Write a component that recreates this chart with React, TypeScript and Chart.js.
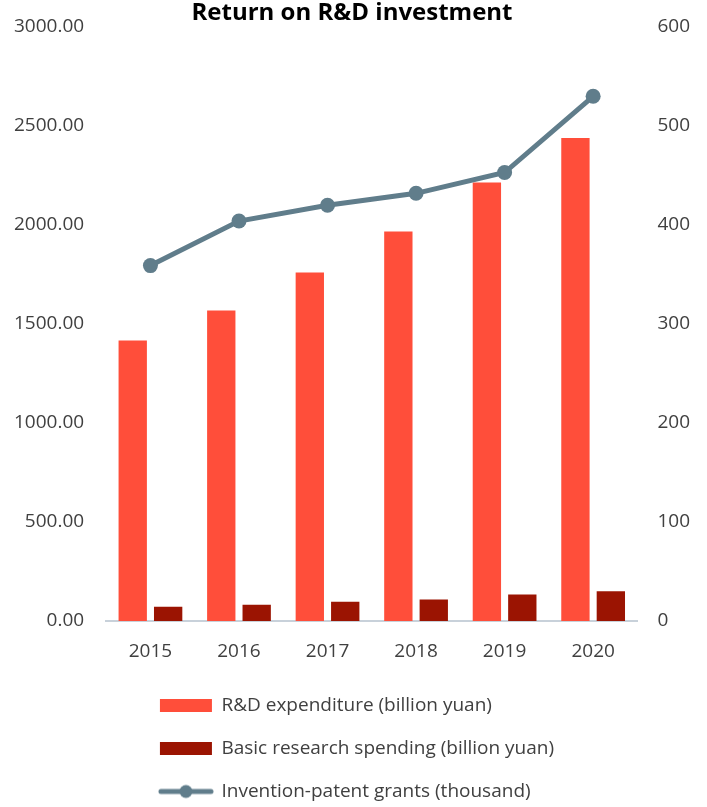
import React, { useEffect, useRef } from "react";
import { Chart, registerables } from "chart.js";

Chart.register(...registerables);

const years = ["2015", "2016", "2017", "2018", "2019", "2020"];
const rdExpenditure = [1417.0, 1567.7, 1760.6, 1967.8, 2214.3, 2439.3];
const basicResearch = [71.6, 82.3, 97.5, 109.0, 133.6, 150.4];
const patentGrants = [359, 404, 420, 432, 453, 530];

const seriesNames = [
  "R&D expenditure (billion yuan)",
  "Basic research spending (billion yuan)",
  "Invention-patent grants (thousand)",
];

const RD_COLOR = "#FF4E3A";
const BASIC_COLOR = "#9B1402";
const LINE_COLOR = "#607D8B";
const TEXT_COLOR = "#404040";
const FONT = "'Open Sans', 'Noto Sans', 'DejaVu Sans', sans-serif";

function makeLineIcon(): HTMLCanvasElement {
  const c = document.createElement("canvas");
  c.width = 56;
  c.height = 16;
  const ctx = c.getContext("2d")!;
  ctx.strokeStyle = LINE_COLOR;
  ctx.lineWidth = 5;
  ctx.lineCap = "round";
  ctx.beginPath();
  ctx.moveTo(3, 8);
  ctx.lineTo(53, 8);
  ctx.stroke();
  ctx.fillStyle = LINE_COLOR;
  ctx.beginPath();
  ctx.arc(28, 8, 6.5, 0, Math.PI * 2);
  ctx.fill();
  return c;
}

// Left-align the legend rows as one block (all rows share the widest row's width)
const alignLegendPlugin = {
  id: "alignLegendLeft",
  afterUpdate(chart: any) {
    const lg = chart.legend;
    if (lg && lg.lineWidths && lg.lineWidths.length) {
      const m = Math.max(...lg.lineWidths) - 10;
      lg.lineWidths = lg.lineWidths.map(() => m);
    }
  },
};

export default function App() {
  const canvasRef = useRef<HTMLCanvasElement | null>(null);

  useEffect(() => {
    document.body.style.margin = "0";
    const lineIcon = makeLineIcon();
    const chart = new Chart(canvasRef.current!, {
      type: "bar",
      data: {
        labels: years,
        datasets: [
          {
            type: "bar",
            label: seriesNames[0],
            data: rdExpenditure,
            backgroundColor: RD_COLOR,
            yAxisID: "y",
            categoryPercentage: 0.8,
            barPercentage: 0.8,
            order: 1,
          },
          {
            type: "bar",
            label: seriesNames[1],
            data: basicResearch,
            backgroundColor: BASIC_COLOR,
            yAxisID: "y",
            categoryPercentage: 0.8,
            barPercentage: 0.8,
            order: 1,
          },
          {
            type: "line",
            label: seriesNames[2],
            data: patentGrants,
            borderColor: LINE_COLOR,
            backgroundColor: LINE_COLOR,
            borderWidth: 5,
            pointRadius: 7.5,
            pointHoverRadius: 7.5,
            pointBackgroundColor: LINE_COLOR,
            pointBorderWidth: 0,
            tension: 0,
            yAxisID: "y1",
            order: 0,
          } as any,
        ],
      },
      options: {
        animation: false,
        responsive: true,
        maintainAspectRatio: false,
        layout: { padding: { left: 14, right: 17, top: 0, bottom: -4 } },
        scales: {
          x: {
            grid: { display: false, drawTicks: false },
            border: { display: true, color: "#C8D1DA", width: 2 },
            ticks: {
              color: TEXT_COLOR,
              font: { family: FONT, size: 19, lineHeight: 1.0 },
              padding: 21,
            },
            afterFit: (s: any) => {
              s.height -= 10;
            },
          },
          y: {
            position: "left",
            min: 0,
            max: 3000,
            grid: { display: false, drawTicks: false },
            border: { display: false },
            ticks: {
              stepSize: 500,
              color: TEXT_COLOR,
              font: { family: FONT, size: 19, lineHeight: 0.5 },
              padding: 22,
              callback: (v: any) => Number(v).toFixed(2),
            },
            afterFit: (s: any) => {
              s.width -= 22;
            },
          },
          y1: {
            position: "right",
            min: 0,
            max: 600,
            grid: { display: false, drawTicks: false },
            border: { display: false },
            ticks: {
              stepSize: 100,
              color: TEXT_COLOR,
              font: { family: FONT, size: 19, lineHeight: 0.5 },
              padding: 20,
            },
            afterFit: (s: any) => {
              s.width -= 20;
            },
          },
        },
        plugins: {
          title: {
            display: true,
            text: "Return on R&D investment",
            color: "#000000",
            font: { family: FONT, size: 24, weight: "bold", lineHeight: 1.05 },
            padding: { top: 1, bottom: 0.8 },
          },
          legend: {
            position: "bottom",
            align: "center",
            labels: {
              usePointStyle: true,
              pointStyleWidth: 52,
              boxHeight: 13,
              padding: 24,
              color: TEXT_COLOR,
              font: { family: FONT, size: 19 },
              sort: (a: any, b: any) => a.datasetIndex - b.datasetIndex,
              generateLabels: (ch: any) => {
                const items = (Chart as any).defaults.plugins.legend.labels.generateLabels(ch);
                return items.map((it: any) =>
                  it.datasetIndex === 2
                    ? { ...it, pointStyle: lineIcon, lineWidth: 0 }
                    : { ...it, pointStyle: "rect", lineWidth: 0 }
                );
              },
            },
          },
          tooltip: { enabled: false },
        },
      },
      plugins: [alignLegendPlugin],
    });
    return () => chart.destroy();
  }, []);

  return (
    <div style={{ position: "fixed", left: 0, top: 0, width: 707, height: 807 }}>
      <canvas ref={canvasRef} />
    </div>
  );
}
